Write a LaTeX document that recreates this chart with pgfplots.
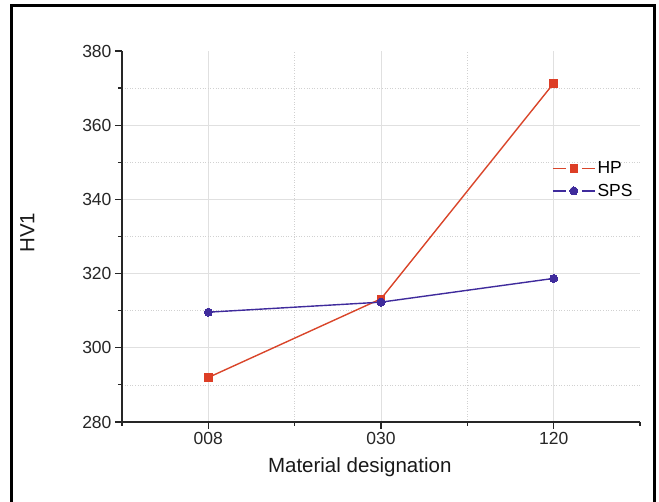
\documentclass[border=0pt]{standalone}
\usepackage{pgfplots}
\pgfplotsset{compat=1.18}
\usepackage{fontspec}
\setmainfont{Liberation Sans}
\definecolor{hpcol}{HTML}{D9452A}
\definecolor{spscol}{HTML}{3F2B9C}
\begin{document}
\begin{tikzpicture}[x=1pt,y=1pt]
\useasboundingbox (0,0) rectangle (659,502);
\draw[line width=3pt,black] (11,-5) -- (11,496) -- (654,496) -- (654,-5);
\begin{axis}[
  at={(122pt,80pt)}, anchor=south west,
  scale only axis, width=518pt, height=371pt,
  xmin=0.5, xmax=3.5, ymin=280, ymax=380,
  axis x line*=bottom, axis y line*=left,
  axis line style={-, line width=1.2pt, black!85},
  xtick={1,2,3}, xticklabels={008,030,120},
  minor xtick={1.5,2.5},
  extra x ticks={0.5,3.5}, extra x tick labels={},
  extra x tick style={grid=none, major tick length=4pt},
  ytick={280,300,320,340,360},
  extra y ticks={380}, extra y tick style={grid=none},
  minor ytick={290,310,330,350,370},
  tick align=outside,
  major tick length=7pt, minor tick length=4pt,
  tick style={line width=1.2pt, black!85},
  xmajorgrids, ymajorgrids, xminorgrids, yminorgrids,
  major grid style={line width=0.6pt, black!12},
  minor grid style={line width=0.6pt, dotted, black!18},
  ticklabel style={font=\fontsize{17.5}{20}\selectfont, text=black!85},
  /pgf/number format/assume math mode=true,
  xlabel={Material designation},
  ylabel={HV1},
  label style={font=\fontsize{20.5}{24}\selectfont, text=black!90},
  xlabel style={at={(axis description cs:0.459,-0.121)}, anchor=center},
  ylabel style={at={(axis description cs:-0.183,0.51)}, anchor=center, rotate=0},
  legend style={at={(axis description cs:0.830,0.708)}, anchor=north west,
    draw=none, fill=none, font=\fontsize{17.5}{20}\selectfont,
    row sep=5pt, inner sep=0pt},
  legend cell align=left,
  legend image code/.code={
    \draw[#1] (0pt,0pt) -- (13pt,0pt);
    \draw[#1] (29pt,0pt) -- (42pt,0pt);
    \draw[#1] plot coordinates {(21pt,0pt)};
  },
]
\addplot[color=hpcol, line width=1.4pt, mark=square*, mark size=3.8pt,
  mark options={fill=hpcol!90!red, draw=hpcol!90!red, line width=0pt}]
  coordinates {(1,292.0) (2,313.2) (3,371.3)};
\addlegendentry{HP}
\addplot[color=spscol, line width=1.4pt, mark=*, mark size=4pt,
  mark options={fill=spscol, draw=spscol, line width=0pt}]
  coordinates {(1,309.6) (2,312.3) (3,318.7)};
\addlegendentry{SPS}
\end{axis}
\end{tikzpicture}
\end{document}
